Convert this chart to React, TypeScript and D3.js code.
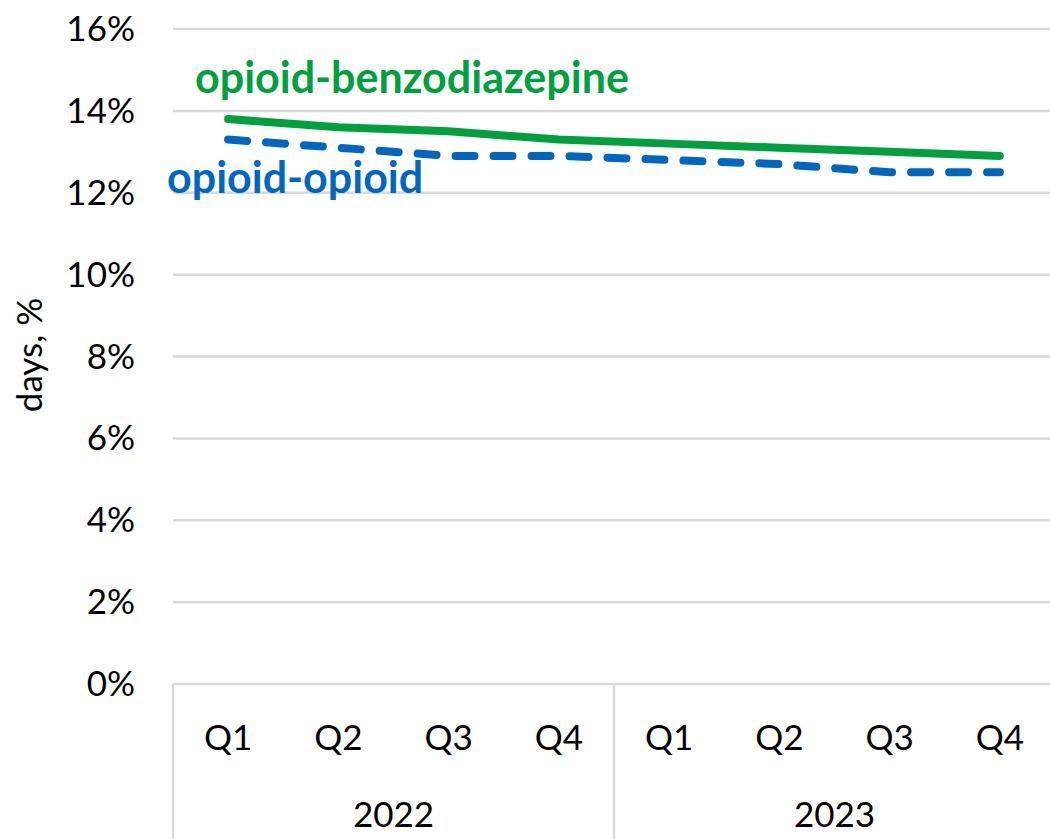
import React, { useEffect, useRef } from 'react';
import * as d3 from 'd3';

// data
const quarters = ['Q1', 'Q2', 'Q3', 'Q4', 'Q1', 'Q2', 'Q3', 'Q4'];
const years = ['2022', '2023'];
const benzoValues = [13.8, 13.6, 13.5, 13.3, 13.2, 13.1, 13.0, 12.9];
const opioidValues = [13.3, 13.1, 12.9, 12.9, 12.8, 12.7, 12.5, 12.5];
const yTicks = [0, 2, 4, 6, 8, 10, 12, 14, 16];

const W = 1050;
const H = 839;
const FONT = 'Lato, "Open Sans", sans-serif';

const App = () => {
  const ref = useRef<SVGSVGElement>(null);

  useEffect(() => {
    const svg = d3.select(ref.current);
    svg.selectAll('*').remove();

    const left = 173;
    const right = 1055;
    const top = 29;
    const bottom = 684;

    const x = d3.scaleBand<number>()
      .domain(d3.range(quarters.length))
      .range([left, right])
      .padding(0);

    const y = d3.scaleLinear()
      .domain([0, 16])
      .range([bottom, top]);

    const cx = (i: number) => (x(i) as number) + x.bandwidth() / 2;

    // gridlines
    svg.append('g')
      .selectAll('line')
      .data(yTicks.filter(d => d > 0))
      .enter()
      .append('line')
      .attr('x1', left)
      .attr('x2', right)
      .attr('y1', d => y(d))
      .attr('y2', d => y(d))
      .attr('stroke', '#d9d9d9')
      .attr('stroke-width', 2.5);

    // y tick labels
    svg.append('g')
      .selectAll('text')
      .data(yTicks)
      .enter()
      .append('text')
      .attr('x', 135)
      .attr('y', d => y(d) + 12)
      .attr('text-anchor', 'end')
      .attr('font-family', FONT)
      .attr('font-size', 35)
      .attr('fill', '#000')
      .text(d => `${d}%`);

    // y axis title
    svg.append('text')
      .attr('transform', `translate(42,${355}) rotate(-90)`)
      .attr('text-anchor', 'middle')
      .attr('font-family', FONT)
      .attr('font-size', 35)
      .attr('fill', '#000')
      .text('days, %');

    // category axis: baseline and group separators
    const axis = svg.append('g').attr('stroke', '#d9d9d9').attr('stroke-width', 2.5);
    axis.append('line')
      .attr('x1', left).attr('x2', right)
      .attr('y1', bottom).attr('y2', bottom);
    [0, 4, 8].forEach(i => {
      const xx = i < 8 ? (x(i) as number) : right;
      axis.append('line')
        .attr('x1', xx).attr('x2', xx)
        .attr('y1', bottom).attr('y2', H);
    });

    // quarter labels
    svg.append('g')
      .selectAll('text')
      .data(quarters)
      .enter()
      .append('text')
      .attr('x', (d, i) => cx(i))
      .attr('y', 750)
      .attr('text-anchor', 'middle')
      .attr('font-family', FONT)
      .attr('font-size', 35)
      .attr('fill', '#000')
      .text(d => d);

    // year labels
    svg.append('g')
      .selectAll('text')
      .data(years)
      .enter()
      .append('text')
      .attr('x', (d, i) => ((x(i * 4) as number) + (i === 1 ? right : (x(4) as number))) / 2)
      .attr('y', 827)
      .attr('text-anchor', 'middle')
      .attr('font-family', FONT)
      .attr('font-size', 35)
      .attr('fill', '#000')
      .text(d => d);

    const line = d3.line<number>()
      .x((d, i) => cx(i))
      .y(d => y(d));

    svg.append('path')
      .datum(opioidValues)
      .attr('d', line)
      .attr('fill', 'none')
      .attr('stroke', '#0066c0')
      .attr('stroke-width', 8)
      .attr('stroke-linecap', 'round')
      .attr('stroke-dasharray', '19 19');

    svg.append('path')
      .datum(benzoValues)
      .attr('d', line)
      .attr('fill', 'none')
      .attr('stroke', '#00a03e')
      .attr('stroke-width', 8)
      .attr('stroke-linecap', 'round');

    // series labels
    svg.append('text')
      .attr('x', 195)
      .attr('y', 93)
      .attr('font-family', FONT)
      .attr('font-weight', 'bold')
      .attr('font-size', 43)
      .attr('fill', '#00a03e')
      .text('opioid-benzodiazepine');

    svg.append('text')
      .attr('x', 167)
      .attr('y', 193)
      .attr('font-family', FONT)
      .attr('font-weight', 'bold')
      .attr('font-size', 43)
      .attr('fill', '#0066c0')
      .text('opioid-opioid');
  }, []);

  return (
    <svg
      ref={ref}
      width={W}
      height={H}
      style={{ position: 'absolute', left: 0, top: 0, background: '#fff' }}
    />
  );
};

export default App;
